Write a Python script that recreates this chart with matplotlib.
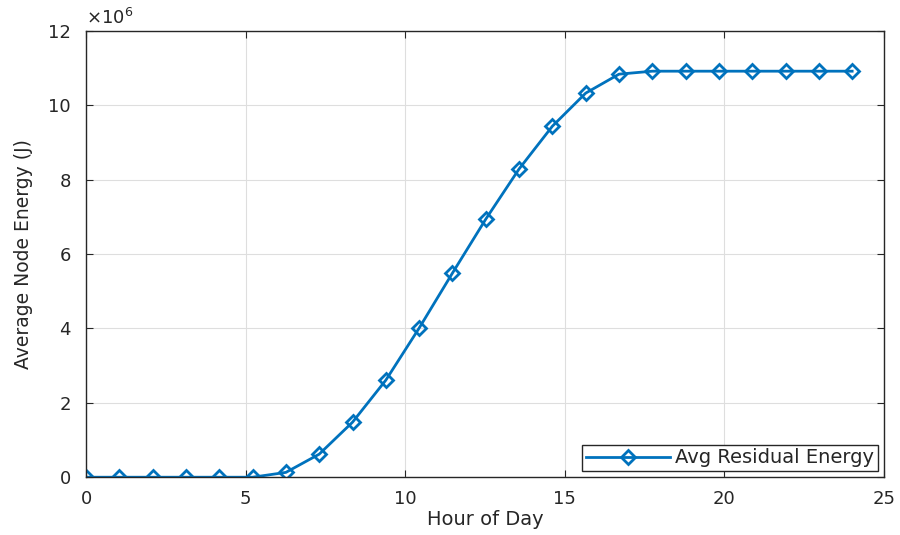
import numpy as np
import matplotlib
matplotlib.use("Agg")
import matplotlib.pyplot as plt

plt.rcParams['font.family'] = ['DejaVu Sans']

hours = np.linspace(0, 24, 24)
energy_millions = [0, 0, 0, 0, 0, 0, 0.13, 0.62, 1.48, 2.61, 4.01, 5.49,
                   6.94, 8.29, 9.44, 10.33, 10.84, 10.92, 10.92, 10.92,
                   10.92, 10.92, 10.92, 10.92]
energy = np.array(energy_millions) * 1e6
x_ticks = [0, 5, 10, 15, 20, 25]
y_ticks = [0, 2, 4, 6, 8, 10, 12]

fig = plt.figure(figsize=(9, 5.35), dpi=100)
ax = fig.add_axes([0.0956, 0.108, 0.8867, 0.834])
color = '#0072BD'
ax.plot(hours, energy, color=color, lw=2, marker='D', markersize=7.5,
        markerfacecolor='none', markeredgewidth=2, label='Avg Residual Energy')
ax.set_xlim(0, 25)
ax.set_ylim(0, 12e6)
ax.set_xticks(x_ticks)
ax.set_yticks([v * 1e6 for v in y_ticks])
ax.set_yticklabels([str(v) for v in y_ticks])
ax.grid(True, color='#dedede', lw=0.8)
ax.set_axisbelow(True)
for s in ax.spines.values():
    s.set_color('#262626')
    s.set_linewidth(1.0)
ax.tick_params(direction='in', length=5, colors='#262626', labelsize=13,
               top=True, right=True)
ax.tick_params(axis='x', pad=9)
ax.tick_params(axis='y', pad=11)
ax.set_xlabel('Hour of Day', fontsize=14, color='#262626', labelpad=2)
ax.set_ylabel('Average Node Energy (J)', fontsize=13.5, color='#262626', labelpad=11)
ax.text(0.0, 1.006, r'$\times10^{6}$', transform=ax.transAxes, fontsize=13,
        color='#262626', va='bottom', ha='left')
leg = ax.legend(loc='lower right', fontsize=14, fancybox=False, framealpha=1,
                edgecolor='#262626', borderpad=0.2, handlelength=4.3,
                handletextpad=0.3, borderaxespad=0.3, labelcolor='#262626')
leg.get_frame().set_linewidth(1.0)
fig.savefig('out.png', dpi=100)
